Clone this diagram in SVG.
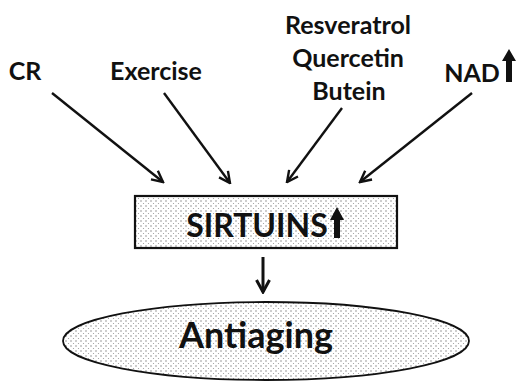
<svg xmlns="http://www.w3.org/2000/svg" width="516" height="382" viewBox="0 0 516 382">
<style>
.lbl{font-family:Lato,"Open Sans","Liberation Sans",sans-serif;font-weight:bold;fill:#111;text-anchor:middle}
.conn{stroke:#111;stroke-width:2.4;fill:none;marker-end:url(#head)}
.down{stroke:#111;stroke-width:3;fill:none;marker-end:url(#headB)}
</style>
<defs>
<marker id="head" viewBox="0 0 14 14" refX="12.5" refY="7" markerWidth="14" markerHeight="14" markerUnits="userSpaceOnUse" orient="auto">
<path d="M1.5,1.5 L12.5,7 L1.5,12.5" fill="none" stroke="#111" stroke-width="2.4" stroke-linejoin="miter"/>
</marker>
<marker id="headB" viewBox="0 0 16 16" refX="14" refY="8" markerWidth="16" markerHeight="16" markerUnits="userSpaceOnUse" orient="auto">
<path d="M2,1.5 L14,8 L2,14.5" fill="none" stroke="#111" stroke-width="3" stroke-linejoin="miter"/>
</marker>
<pattern id="dots" width="5" height="5" patternUnits="userSpaceOnUse">
<rect width="5" height="5" fill="#fff"/>
<circle cx="1" cy="1" r="0.7" fill="#777"/>
<circle cx="3.5" cy="3.5" r="0.6" fill="#999"/>
</pattern>
</defs>
<rect width="516" height="382" fill="#fff"/>
<g id="cr"><text class="lbl" x="25" y="80" font-size="25">CR</text></g>
<g id="exercise"><text class="lbl" x="156" y="80" font-size="25">Exercise</text></g>
<g id="polyphenols">
<text class="lbl" x="348" y="34" font-size="25">Resveratrol</text>
<text class="lbl" x="348" y="67" font-size="25">Quercetin</text>
<text class="lbl" x="349" y="100" font-size="25">Butein</text>
</g>
<g id="nad">
<text class="lbl" x="472" y="82" font-size="25">NAD</text>
<path d="M509,49 L516,61 L512,61 L512,82 L506,82 L506,61 L502,61 Z" fill="#111"/>
</g>
<g id="sirtuins">
<rect x="135" y="196" width="262" height="52" fill="url(#dots)" stroke="#111" stroke-width="2.2"/>
<text class="lbl" x="257" y="237" font-size="32">SIRTUINS</text>
<path d="M337,207 L344,220 L340,220 L340,238 L334,238 L334,220 L330,220 Z" fill="#111"/>
</g>
<g id="antiaging">
<ellipse cx="266" cy="341" rx="203" ry="39" fill="url(#dots)" stroke="#111" stroke-width="1.8"/>
<text class="lbl" x="256" y="348" font-size="36">Antiaging</text>
</g>
<g id="connectors">
<line class="conn" x1="52" y1="93" x2="163" y2="182"/>
<line class="conn" x1="164" y1="93" x2="230" y2="183"/>
<line class="conn" x1="342" y1="108" x2="287" y2="182"/>
<line class="conn" x1="472" y1="93" x2="360" y2="182"/>
<line class="down" x1="263" y1="257" x2="263" y2="292"/>
</g>
</svg>
